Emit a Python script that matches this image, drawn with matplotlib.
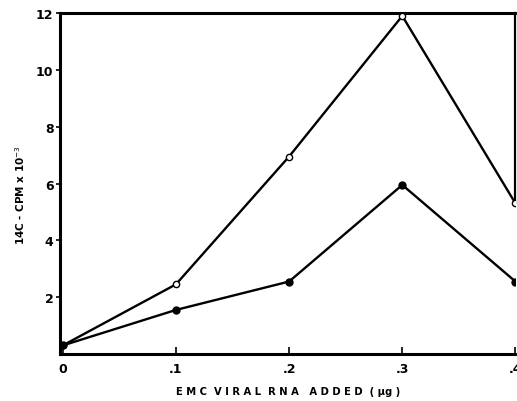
import matplotlib.pyplot as plt

# EMC viral RNA dose (ug) vs 14C incorporation (cpm x 10^-3)
rna_ug = [0.0, 0.1, 0.2, 0.3, 0.4]
open_cpm = [0.3, 2.45, 6.95, 11.9, 5.3]
filled_cpm = [0.3, 1.55, 2.55, 5.95, 2.55]

x_ticks = [0.0, 0.1, 0.2, 0.3, 0.4]
x_labels = ["0", ".1", ".2", ".3", ".4"]
y_ticks = [2, 4, 6, 8, 10, 12]

plt.rcParams['font.family'] = ['DejaVu Sans']

fig = plt.figure(figsize=(5.17, 4.02), dpi=100)
ax = fig.add_axes([0.117, 0.117, 0.880, 0.848])

ax.plot(rna_ug, open_cpm, color='black', lw=1.7, marker='o', ms=4.5,
        mfc='white', mec='black', mew=1.0, zorder=3)
ax.plot(rna_ug, filled_cpm, color='black', lw=1.7, marker='o', ms=5,
        mfc='black', mec='black', zorder=3)

ax.set_xlim(-0.002, 0.4)
ax.set_ylim(0, 12)

for side in ['left', 'top', 'bottom', 'right']:
    ax.spines[side].set_linewidth(2.2)
ax.spines['right'].set_bounds(5.3, 12)
ax.spines['right'].set_linewidth(1.6)

ax.set_xticks(x_ticks)
ax.set_xticklabels(x_labels, fontsize=9, fontweight='bold')
ax.tick_params(axis='x', direction='in', length=5, width=1.2, pad=6)

ax.set_yticks(y_ticks)
ax.set_yticklabels([str(v) for v in y_ticks], fontsize=9, fontweight='bold')
ax.tick_params(axis='y', direction='out', length=3, width=1.2, pad=2)

# axis titles placed in figure coords
fig.text(288 / 517, 1 - 392 / 402, "E M C  V I R A L  R N A   A D D E D  ( μg )",
         fontsize=7.2, fontweight='bold', ha='center', va='center')
fig.text(20 / 517, 1 - 195 / 402, "14C - CPM x 10$^{-3}$",
         fontsize=7.5, fontweight='bold', ha='center', va='center', rotation=90)

fig.savefig("out.png", dpi=100, facecolor='white')
